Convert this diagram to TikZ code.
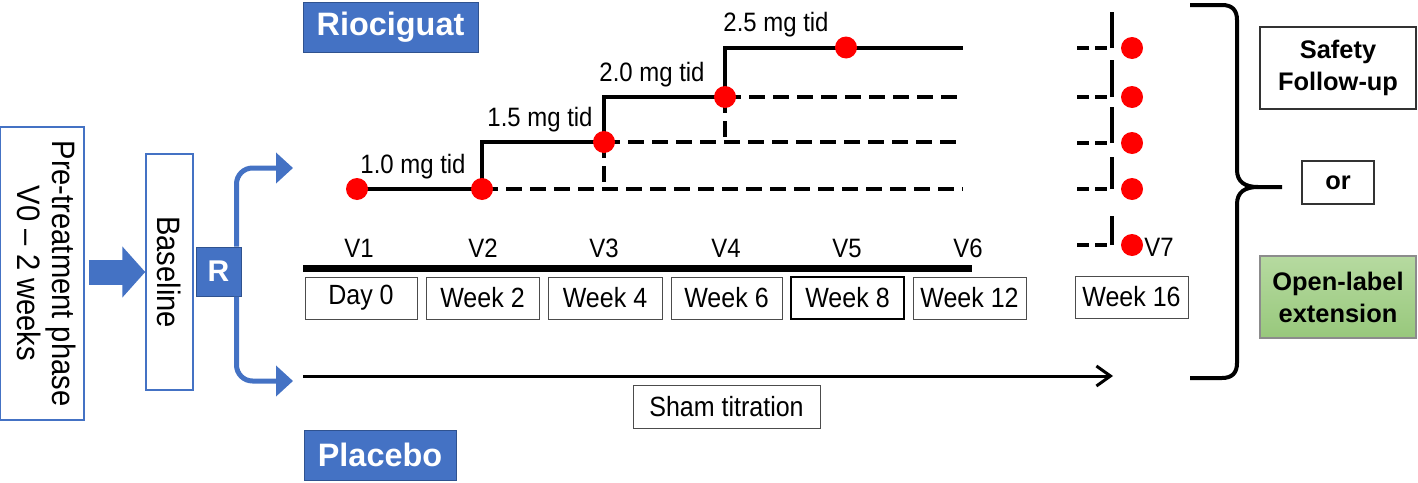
\documentclass[tikz,border=0pt]{standalone}
\usepackage{fontspec}
\usepackage{graphicx}
\setmainfont{Liberation Sans}
\newfontfamily\narrowfont[FakeStretch=0.9,Ligatures=TeX]{Liberation Sans}
\usetikzlibrary{arrows.meta}
\definecolor{pblue}{HTML}{4472C4}
\definecolor{pbdark}{HTML}{2F528F}
\definecolor{olgtop}{RGB}{182,218,160}
\definecolor{olgbot}{RGB}{152,200,124}
\newcommand{\fsz}[2]{\fontsize{#1}{#2}\selectfont}
\begin{document}
\begin{tikzpicture}[x=0.5pt,y=-0.5pt,
  lbl/.style={font=\narrowfont\fsz{13.3}{16}, inner sep=0},
  wbox/.style={draw=black!70, line width=0.5pt, minimum height=21pt, inner sep=0, font=\narrowfont\fsz{13.9}{16}},
  bluebox/.style={draw=pblue, line width=0.75pt, inner sep=0},
  armbox/.style={fill=pblue, draw=pbdark, line width=0.5pt, text=white, font=\bfseries\fsz{16.2}{19}, inner sep=0, minimum height=25pt},
  dot/.style={circle, fill=red, inner sep=0, minimum size=11pt},
  stepline/.style={line width=2pt},
  dashline/.style={line width=2pt, dash pattern=on 8pt off 4pt},
  shortdash/.style={line width=2pt, dash pattern=on 6pt off 3pt},
  outbox/.style={draw=black!80, line width=0.6pt, inner sep=0, font=\bfseries\fsz{12.7}{16}, align=center},
  randarrow/.style={pblue, line width=2.5pt, rounded corners=8pt, -{Triangle[length=8.5pt,width=15pt]}}
]
\useasboundingbox (0,0) rectangle (1418,482);

% left part
\node[bluebox, minimum width=42pt, minimum height=146.5pt, font=\narrowfont\fsz{16.2}{17.5}] (pre) at (42,273.5)
  {\rotatebox{-90}{\begin{tabular}{@{}c@{}}Pre-treatment phase\\V0 -- 2 weeks\end{tabular}}};
\node[bluebox, minimum width=23.5pt, minimum height=118pt, font=\narrowfont\fsz{16.2}{18}] (base) at (169.5,272)
  {\rotatebox{-90}{Baseline}};
\draw[pblue, line width=12.5pt, -{Triangle[length=11.5pt,width=25pt]}] ([xshift=2pt]pre.east |- base.west) -- (base.west);
\node[fill=pblue, draw=pbdark, line width=0.5pt, minimum width=22.5pt, minimum height=24.5pt, text=white,
  font=\bfseries\fsz{15}{17}, inner sep=0] (R) at (218.5,271.5) {R};
\coordinate (tipA) at (293,168);
\coordinate (tipB) at (293,381);
\draw[randarrow] ([xshift=9pt]R.north) |- (tipA);
\draw[randarrow] ([xshift=9pt]R.south) |- (tipB);

% arm labels
\node[armbox, minimum width=87.5pt] (rio) at (390.5,27) {Riociguat};
\node[armbox, minimum width=76pt] (pla) at (380,455) {Placebo};

% titration steps
\coordinate (c1) at (357,189);
\coordinate (c2) at (482,189);
\coordinate (c3) at (604,142);
\coordinate (c4) at (725,97);
\coordinate (c5) at (846,47.5);
\coordinate (e1) at (963,189);
\coordinate (e2) at (963,142);
\coordinate (e3) at (963,97);
\coordinate (e4) at (963,47.5);
\draw[dashline] (c2) -- (e1);
\draw[dashline] (c3) -- (e2);
\draw[dashline] (c4) -- (e3);
\draw[dashline] (c3) -- (c3 |- c2);
\draw[dashline] (c4) -- (c4 |- c3);
\draw[stepline] (c1) -- (c2) -- (c2 |- c3) -- (c3) -- (c3 |- c4) -- (c4) -- (c4 |- c5) -- (e4);
\node[dot] (d1) at (c1) {};
\node[dot] (d2) at (c2) {};
\node[dot] (d3) at (c3) {};
\node[dot] (d4) at (c4) {};
\node[dot] (d5) at (c5) {};
\node[lbl, anchor=base] (l1) at (413,173) {1.0 mg tid};
\node[lbl, anchor=base] (l2) at (540,126) {1.5 mg tid};
\node[lbl, anchor=base] (l3) at (652,81) {2.0 mg tid};
\node[lbl, anchor=base] (l4) at (776,31.5) {2.5 mg tid};

% visit timeline
\node[lbl, anchor=base] (v1) at (359,257) {V1};
\node[lbl, anchor=base] (v2) at (483,257) {V2};
\node[lbl, anchor=base] (v3) at (604,257) {V3};
\node[lbl, anchor=base] (v4) at (726,257) {V4};
\node[lbl, anchor=base] (v5) at (847,257) {V5};
\node[lbl, anchor=base] (v6) at (968,257) {V6};
\coordinate (t0) at (303,268);
\coordinate (t1) at (972,268);
\draw[line width=3.5pt] (t0) -- (t1);
\node[wbox, minimum width=56pt] (w0) at (361,298) {Day 0};
\node[wbox, minimum width=56.5pt] (w2) at (482.5,298) {Week 2};
\node[wbox, minimum width=57pt] (w4) at (605,298) {Week 4};
\node[wbox, minimum width=55.5pt] (w6) at (726.5,298) {Week 6};
\node[wbox, minimum width=56.5pt, draw=black, line width=1pt] (w8) at (847.5,298) {Week 8};
\node[wbox, minimum width=56.5pt] (w12) at (969.5,298) {Week 12};
\node[wbox, minimum width=56.5pt] (w16) at (1131.5,297) {Week 16};

% week 16 column
\foreach \i/\yd/\yt in {1/48/12, 2/97/60, 3/143/107, 4/189/157, 5/245/216} {
  \coordinate (s\i) at (1077,\yd);
  \coordinate (k\i) at (1112,\yd);
  \coordinate (u\i) at (1112,\yt);
  \draw[shortdash] (s\i) -- (k\i);
  \draw[stepline] (k\i) -- (u\i);
  \node[dot] (r\i) at (1132,\yd) {};
}
\node[lbl, anchor=base] (v7) at (1159,256) {V7};

% placebo
\coordinate (p0) at (303,376);
\coordinate (p1) at (1113,376);
\draw[line width=1.5pt, -{Straight Barb[length=7pt,width=10pt]}] (p0) -- (p1);
\node[wbox, minimum width=93.5pt, minimum height=21.5pt] (sham) at (726.5,406.5) {Sham titration};

% brace
\draw[line width=2pt] (1190,5) -- (1222,5) .. controls (1232,5) and (1237,10) .. (1237,20)
  -- (1237,170) .. controls (1237,182) and (1245,187) .. (1258,187) -- (1282,187);
\draw[line width=2pt] (1258,187) .. controls (1245,187) and (1237,192) .. (1237,204)
  -- (1237,363) .. controls (1237,373) and (1232,378) .. (1222,378) -- (1190,378);

% outcomes
\node[outbox, minimum width=78pt, minimum height=41pt] (safe) at (1338,68) {Safety\\Follow-up};
\node[outbox, minimum width=36pt, minimum height=21.5pt] (or) at (1338,182.5) {or};
\node[outbox, minimum width=78pt, minimum height=41pt, draw=black!45, top color=olgtop, bottom color=olgbot] (ole) at (1338,297) {Open-label\\extension};
\end{tikzpicture}
\end{document}
